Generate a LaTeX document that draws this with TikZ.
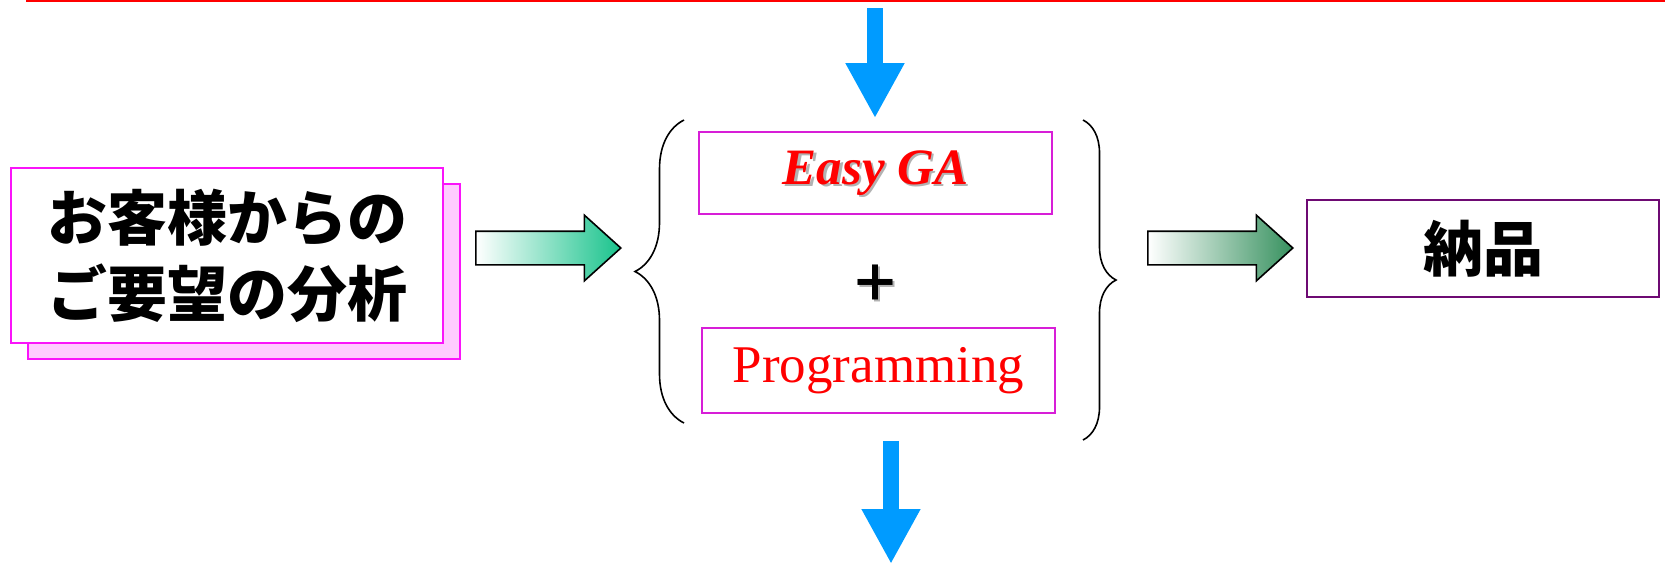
\documentclass[tikz,border=0pt]{standalone}
\usepackage{fontspec}
\setmainfont{Liberation Serif}
\newfontfamily\jpfont{Noto Sans CJK JP}
\usetikzlibrary{shapes.arrows, arrows.meta, decorations.pathreplacing}
\definecolor{boxpink}{RGB}{250,20,250}
\definecolor{shadowpink}{RGB}{255,204,255}
\definecolor{gamag}{RGB}{215,30,215}
\definecolor{delivpurple}{RGB}{110,10,115}
\definecolor{skyblue}{RGB}{0,155,255}
\definecolor{teal}{RGB}{25,195,140}
\definecolor{darkgreen}{RGB}{55,145,95}
\begin{document}
\begin{tikzpicture}[x=0.5pt, y=-0.5pt,
    pinkbox/.style={draw=boxpink, line width=1pt, minimum width=216pt, minimum height=87.5pt, inner sep=0pt},
    gabox/.style={draw=gamag, line width=0.8pt, minimum width=176.5pt, inner sep=0pt},
    fatarrow/.style={single arrow, draw, line width=0.8pt, minimum height=72.5pt, inner xsep=0pt, inner ysep=8pt,
        single arrow head extend=8pt, single arrow head indent=0pt, single arrow tip angle=84},
    bluearrow/.style={draw=skyblue, line width=8pt, -{Triangle[width=27.5pt,length=27.5pt]}},
    bracestyle/.style={draw, line width=0.8pt, decorate}]
    \useasboundingbox (0,0) rectangle (1665,564);
    \draw[red, line width=1pt] (26,1) -- (1665,1);
    % left: request analysis
    \node[pinkbox, fill=shadowpink] (custshadow) at (243.5, 271) {};
    \node[pinkbox, fill=white, align=center, font=\jpfont\bfseries\fontsize{30pt}{38pt}\selectfont] (cust) at (227, 255.5) {お客様からの\\ご要望の分析};
    % middle
    \node[gabox, minimum height=41pt] (ega) at (875.5, 173) {};
    \node[text=gray!60, font=\fontsize{25.5pt}{30pt}\selectfont\bfseries\itshape] at ([xshift=1.2pt, yshift=-1.2pt]ega.center) {Easy GA};
    \node[text=red, font=\fontsize{25.5pt}{30pt}\selectfont\bfseries\itshape] (egatext) at (ega.center) {Easy GA};
    \node[text=gray!60, font=\jpfont\bfseries\fontsize{25pt}{30pt}\selectfont] at (877, 285) {＋};
    \node[font=\jpfont\bfseries\fontsize{25pt}{30pt}\selectfont] (plus) at (875, 283) {＋};
    \node[gabox, minimum height=42.5pt, text=red, font=\fontsize{26.5pt}{30pt}\selectfont] (prog) at (878.5, 370.5) {Programming};
    \draw[bracestyle, decoration={brace, amplitude=24.5pt}] (684,423) -- (684,120);
    \draw[bracestyle, decoration={brace, amplitude=16.5pt}] (1083,120) -- (1083,440);
    % right: delivery
    \node[draw=delivpurple, line width=0.9pt, minimum width=176pt, minimum height=48.5pt, font=\jpfont\bfseries\fontsize{30pt}{36pt}\selectfont] (deliv) at (1483, 248.5) {納品};
    % arrows
    \node[fatarrow, left color=white, right color=teal] (toplan) at (539, 248) {};
    \node[fatarrow, left color=white, right color=darkgreen] (todeliv) at (1211, 248) {};
    \coordinate (infrom) at (875, 8);
    \coordinate (outto) at (891, 564);
    \draw[bluearrow, shorten >=6.5pt] (infrom) -- (infrom |- ega.north);
    \draw[bluearrow, shorten <=13.5pt] (outto |- prog.south) -- (outto);
\end{tikzpicture}
\end{document}
